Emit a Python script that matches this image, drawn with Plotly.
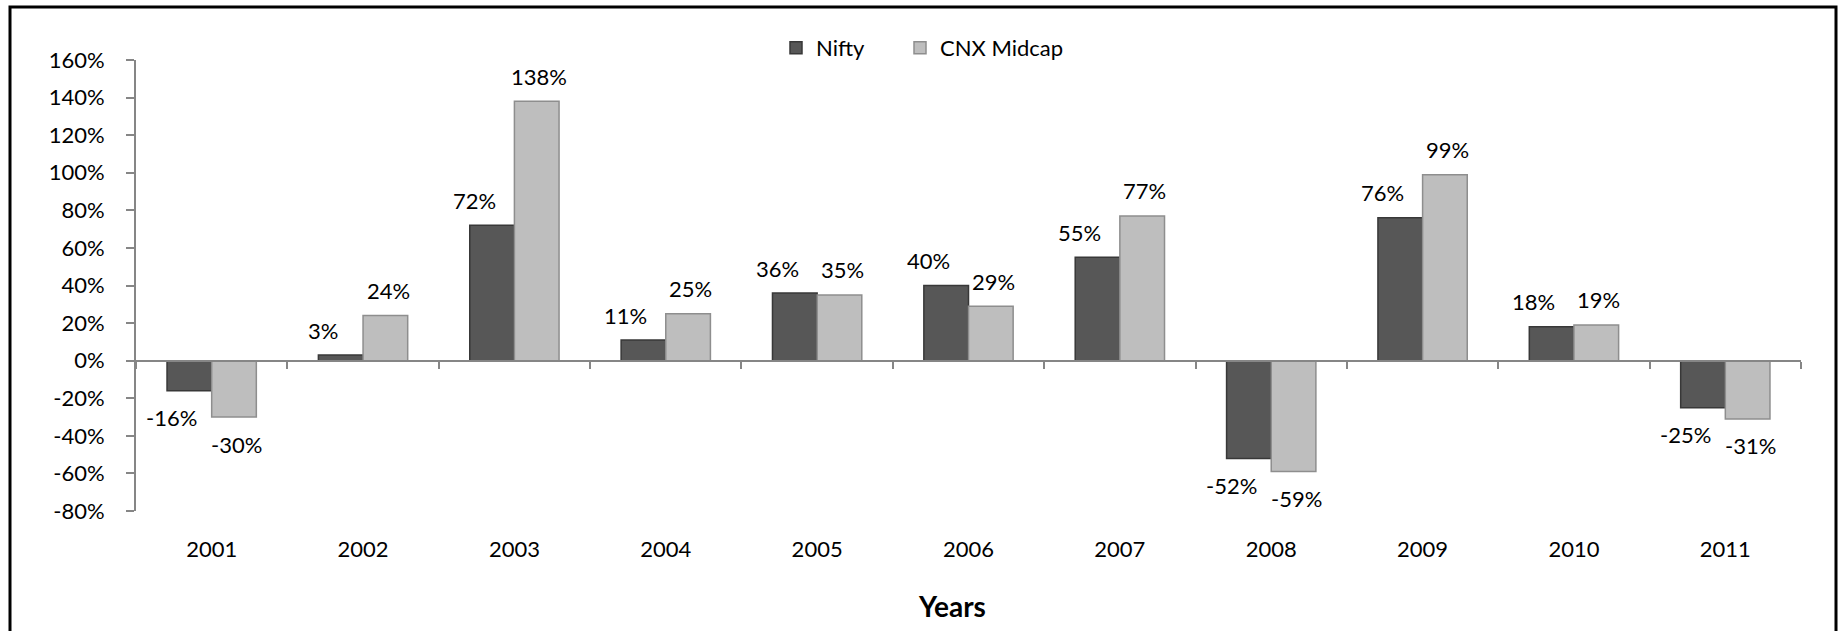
import plotly.graph_objects as go

# ---- data ----
years = ['2001', '2002', '2003', '2004', '2005', '2006', '2007', '2008', '2009', '2010', '2011']
nifty = [-16, 3, 72, 11, 36, 40, 55, -52, 76, 18, -25]
midcap = [-30, 24, 138, 25, 35, 29, 77, -59, 99, 19, -31]
y_tick_values = list(range(-80, 161, 20))
y_tick_labels = [f"{v}%" for v in y_tick_values]

FONT = "Lato"
FS = 22
W, H = 1839, 631
ML, MR, MT, MB = 136, 38, 60, 120
PW, PH = W - ML - MR, H - MT - MB


def px_x(x):
    return (x - ML) / PW


def px_y(y):
    return (H - MB - y) / PH


AXIS_COLOR = '#868686'

fig = go.Figure()
fig.add_trace(go.Bar(
    x=years, y=nifty, name='Nifty', legend='legend',
    marker=dict(color='#575757', line=dict(color='#383838', width=1.5)),
    hoverinfo='skip'))
fig.add_trace(go.Bar(
    x=years, y=midcap, name='CNX Midcap', legend='legend2',
    marker=dict(color='#bebebe', line=dict(color='#8e8e8e', width=1.5)),
    hoverinfo='skip'))
# helper trace for the zero-level category axis
fig.add_trace(go.Scatter(
    x=years, y=[0] * len(years), xaxis='x2', yaxis='y', mode='markers',
    marker=dict(opacity=0), showlegend=False, hoverinfo='skip'))

annotations = []
for series, shift_x in ((nifty, -40), (midcap, 25)):
    for i, v in enumerate(series):
        annotations.append(dict(
            x=i, y=v, xref='x', yref='y', text=f"{v}%", showarrow=False,
            xanchor='center', yanchor='middle', xshift=shift_x,
            yshift=25 if v >= 0 else -27,
            font=dict(family=FONT, size=FS, color='#000000')))

annotations.append(dict(
    x=px_x(952), y=px_y(606), xref='paper', yref='paper', text='<b>Years</b>',
    showarrow=False, xanchor='center', yanchor='middle',
    font=dict(family=FONT, size=28, color='#000000')))

legend_common = dict(orientation='h', yanchor='middle', xanchor='left',
                     font=dict(family=FONT, size=FS, color='#000000'),
                     bgcolor='rgba(0,0,0,0)')

fig.update_layout(
    width=W, height=H,
    margin=dict(l=ML, r=MR, t=MT, b=MB, pad=0),
    paper_bgcolor='white', plot_bgcolor='white',
    font=dict(family=FONT, size=FS, color='#000000'),
    barmode='group', bargap=0.41, bargroupgap=0,
    showlegend=True,
    legend=dict(x=px_x(776), y=px_y(48), **legend_common),
    legend2=dict(x=px_x(900), y=px_y(48), **legend_common),
    xaxis=dict(type='category', categoryorder='array', categoryarray=years,
               range=[-0.5, len(years) - 0.5], showline=False, ticks='',
               showgrid=False, zeroline=False, showticklabels=True,
               tickfont=dict(family=FONT, size=FS, color='#000000'),
               ticklabelstandoff=23, fixedrange=True),
    xaxis2=dict(type='category', categoryorder='array', categoryarray=years,
                range=[-0.5, len(years) - 0.5], overlaying='x', anchor='free',
                position=(0 - (-80)) / 240, side='bottom',
                showline=True, linecolor=AXIS_COLOR, linewidth=2,
                ticks='outside', tickson='boundaries', ticklen=7,
                tickcolor=AXIS_COLOR, tickwidth=2,
                showticklabels=False, showgrid=False, zeroline=False),
    yaxis=dict(range=[-80, 160], tickvals=y_tick_values, ticktext=y_tick_labels,
               showline=True, linecolor=AXIS_COLOR, linewidth=2,
               ticks='outside', ticklen=8, tickcolor=AXIS_COLOR, tickwidth=2,
               showgrid=False, zeroline=False,
               tickfont=dict(family=FONT, size=FS, color='#000000'),
               ticklabelstandoff=17),
    annotations=annotations,
    shapes=[dict(type='rect', xref='paper', yref='paper',
                 x0=px_x(10), x1=px_x(1836), y0=px_y(700), y1=px_y(7),
                 line=dict(color='#000000', width=3), layer='above')],
)

fig.write_html("out.html",
               config={'displayModeBar': False},
               post_script="document.body.style.margin='0';document.body.style.overflow='hidden';")
